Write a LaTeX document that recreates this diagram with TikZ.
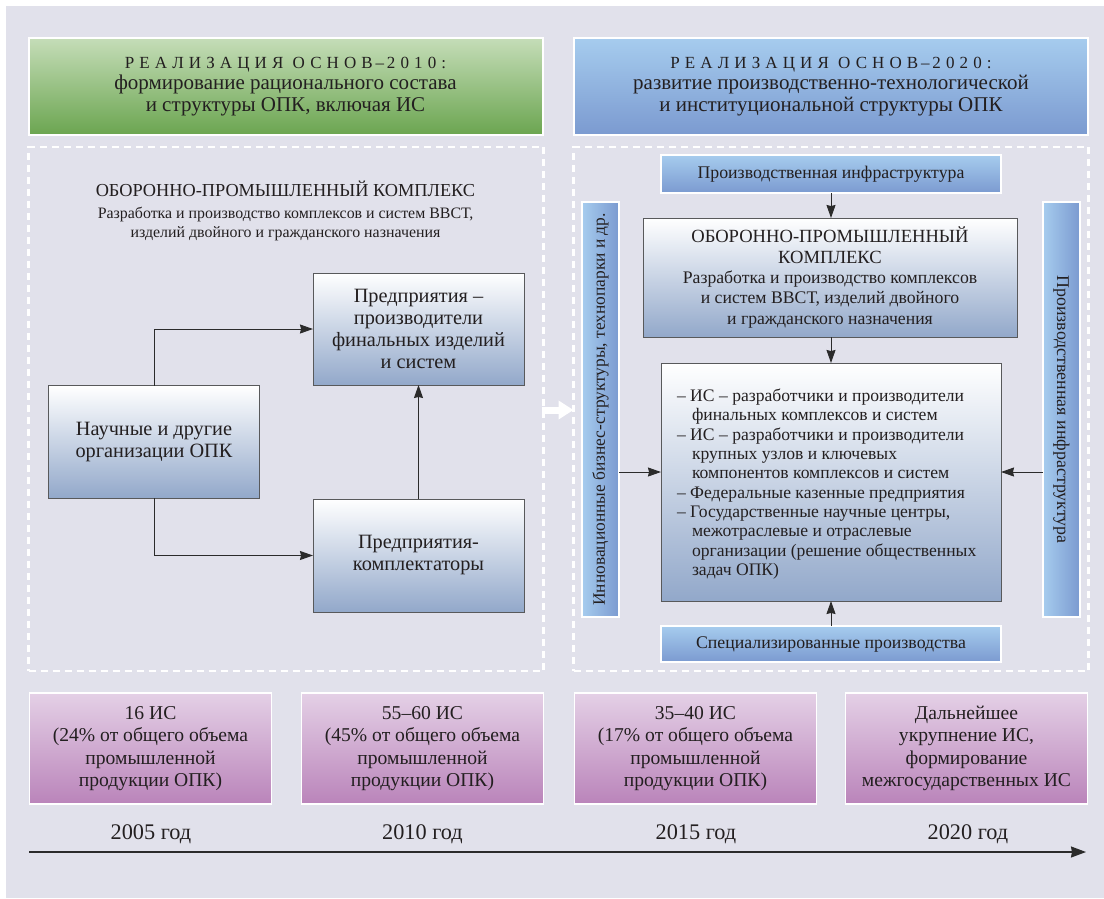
\documentclass[tikz,border=0pt]{standalone}
\usepackage{fontspec}
\usepackage{graphicx}
\setmainfont{Liberation Serif}
\newfontfamily\spacedfont[LetterSpace=30]{Liberation Serif}
\usetikzlibrary{arrows.meta}
\definecolor{bgc}{HTML}{E1E1EB}
\definecolor{txt}{HTML}{231F20}
\definecolor{greenT}{HTML}{C5DDB8}
\definecolor{greenB}{HTML}{6BA550}
\definecolor{blueT}{HTML}{A6CCEE}
\definecolor{blueB}{HTML}{7B9AD0}
\definecolor{wbT}{HTML}{FFFFFF}
\definecolor{wbB}{HTML}{92A8CA}
\definecolor{pinkT}{HTML}{E4D0E6}
\definecolor{pinkB}{HTML}{BA84BA}
\definecolor{edge}{HTML}{58595B}
\definecolor{arrc}{HTML}{2B2B2B}
\tikzset{
  base/.style={inner sep=0pt, outer sep=0pt, text=txt, align=center},
  header/.style={base, draw=white, line width=2pt, minimum width=514pt, minimum height=97pt,
     font=\fontsize{21}{21.7}\selectfont},
  frame/.style={base, draw=white, line width=2.2pt, dash pattern=on 7pt off 5pt,
     minimum width=515pt, minimum height=524pt},
  wbbox/.style={base, draw=edge, line width=0.9pt, top color=wbT, bottom color=wbB,
     font=\fontsize{20.3}{22}\selectfont},
  bluebox/.style={base, draw=white, line width=1.8pt, top color=blueT, bottom color=blueB,
     font=\fontsize{17.8}{20}\selectfont},
  vbox/.style={base, draw=white, line width=1.8pt, left color=blueT, right color=blueB,
     minimum width=37pt, minimum height=415pt},
  pinkbox/.style={base, draw=white, line width=1.8pt, top color=pinkT, bottom color=pinkB,
     minimum width=242pt, minimum height=111pt, font=\fontsize{19.6}{22.4}\selectfont},
  yearlbl/.style={base, font=\fontsize{22.3}{24}\selectfont},
  arr/.style={draw=arrc, line width=1pt, -{Stealth[length=13pt,width=9pt,inset=1pt]}},
}
\begin{document}
\begin{tikzpicture}[x=1pt,y=-1pt]
\useasboundingbox (0,0) rectangle (1104,898);
\fill[white] (0,0) rectangle (1104,898);
\fill[bgc] (6,6) rectangle (1104,898);

% headers
\node[header, top color=greenT, bottom color=greenB] (h1) at (285.5,86.5)
  {{\spacedfont\fontsize{17}{21.7}\selectfont РЕАЛИЗАЦИЯ ОСНОВ\,–\,2010:}\\
   формирование рационального состава\\ и структуры ОПК, включая ИС};
\node[header, top color=blueT, bottom color=blueB] (h2) at (831,86.5)
  {{\spacedfont\fontsize{17}{21.7}\selectfont РЕАЛИЗАЦИЯ ОСНОВ\,–\,2020:}\\
   развитие производственно-технологической\\ и институциональной структуры ОПК};

% frames
\node[frame] (lf) at (286,409) {};
\node[frame] (rf) at (831,409) {};

% left panel
\node[base, font=\fontsize{15.9}{19}\selectfont] (ltitle) at (285.5,211)
  {{\fontsize{18.3}{19}\selectfont ОБОРОННО-ПРОМЫШЛЕННЫЙ КОМПЛЕКС}\\[2.5pt]
   Разработка и производство комплексов и систем ВВСТ,\\
   изделий двойного и гражданского назначения};

\node[wbbox, minimum width=211pt, minimum height=112.5pt] (nauch) at (154,442)
  {Научные и другие\\ организации ОПК};
\node[wbbox, minimum width=211pt, minimum height=112pt] (proizv) at (418.5,329)
  {Предприятия –\\ производители\\ финальных изделий\\ и систем};
\node[wbbox, minimum width=211pt, minimum height=113pt] (kompl) at (418.5,555.5)
  {Предприятия-\\ комплектаторы};

\draw[arr] (nauch.north) |- (proizv.west);
\draw[arr] (nauch.south) |- (kompl.west);
\draw[arr] (kompl.north) -- (proizv.south);

% transition arrow
\draw[white, line width=7pt, -{Triangle[length=15pt,width=18pt]}] ([xshift=-2pt,yshift=-1pt]lf.east) -- ([yshift=-1pt]rf.west);

% right panel
\node[bluebox, minimum width=340pt, minimum height=38pt] (infra) at (831,174)
  {Производственная инфраструктура};
\node[wbbox, minimum width=374pt, minimum height=119pt, font=\fontsize{17.7}{20.3}\selectfont] (opk) at (830,277.5)
  {{\fontsize{18.6}{20.3}\selectfont ОБОРОННО-ПРОМЫШЛЕННЫЙ}\\
   {\fontsize{18.6}{20.3}\selectfont КОМПЛЕКС}\\
   Разработка и производство комплексов\\
   и систем ВВСТ, изделий двойного\\
   и гражданского назначения};
\node[wbbox, minimum width=340pt, minimum height=238pt] (list) at (831,482) {};
\node[base, anchor=north west, align=left, font=\fontsize{17.6}{19.3}\selectfont] (listtxt) at (677,389)
  {– ИС – разработчики и производители\\
   \hspace*{15pt}финальных комплексов и систем\\
   – ИС – разработчики и производители\\
   \hspace*{15pt}крупных узлов и ключевых\\
   \hspace*{15pt}компонентов комплексов и систем\\
   – Федеральные казенные предприятия\\
   – Государственные научные центры,\\
   \hspace*{15pt}межотраслевые и отраслевые\\
   \hspace*{15pt}организации (решение общественных\\
   \hspace*{15pt}задач ОПК)};
\node[bluebox, minimum width=340pt, minimum height=36pt] (spec) at (831,644)
  {Специализированные производства};
\node[vbox, font=\fontsize{17.4}{20}\selectfont] (lv) at (600.5,409.5)
  {\rotatebox{90}{Инновационные бизнес-структуры, технопарки и др.}};
\node[vbox, font=\fontsize{17.9}{20}\selectfont] (rv) at (1061.5,409.5)
  {\rotatebox{-90}{Производственная инфраструктура}};

\coordinate (ay) at (0,472);
\draw[arr] (infra.south) -- (opk.north -| infra.south);
\draw[arr] (opk.south -| list.north) -- (list.north);
\draw[arr] (spec.north) -- (list.south);
\draw[arr] (lv.east |- ay) -- (list.west |- ay);
\draw[arr] (rv.west |- ay) -- (list.east |- ay);

% bottom
\node[pinkbox] (p1) at (150.5,748.5) {16 ИС\\ (24\% от общего объема\\ промышленной\\ продукции ОПК)};
\node[pinkbox] (p2) at (422.5,748.5) {55–60 ИС\\ (45\% от общего объема\\ промышленной\\ продукции ОПК)};
\node[pinkbox] (p3) at (695.5,748.5) {35–40 ИС\\ (17\% от общего объема\\ промышленной\\ продукции ОПК)};
\node[pinkbox] (p4) at (966.5,748.5) {Дальнейшее\\ укрупнение ИС,\\ формирование\\ межгосударственных ИС};

\node[yearlbl] (y1) at (151,834) {2005 год};
\node[yearlbl] (y2) at (422.5,834) {2010 год};
\node[yearlbl] (y3) at (696,834) {2015 год};
\node[yearlbl] (y4) at (968,834) {2020 год};

\coordinate (t0) at (29,852);
\coordinate (t1) at (1086,852);
\draw[draw=edge, line width=1.5pt, -{Stealth[length=15pt,width=11pt,inset=1pt]}, arrc] (t0) -- (t1);
\end{tikzpicture}
\end{document}
